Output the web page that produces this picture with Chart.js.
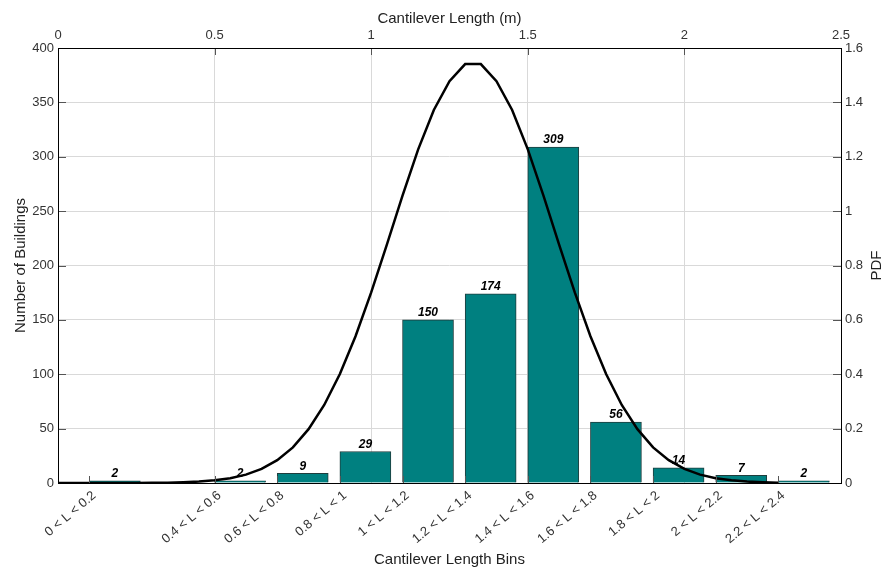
<!DOCTYPE html>
<html>
<head>
<meta charset="utf-8">
<title>Cantilever Length Histogram</title>
<script src="https://cdn.jsdelivr.net/npm/chart.js@4.4.1/dist/chart.umd.min.js"></script>
<style>
  body { margin: 0; background: #fff; }
  canvas { display: block; }
</style>
</head>
<body>
<canvas id="histChart" width="888" height="570"></canvas>
<script>
const binLabels = ['0 < L < 0.2', '0.4 < L < 0.6', '0.6 < L < 0.8', '0.8 < L < 1', '1 < L < 1.2',
  '1.2 < L < 1.4', '1.4 < L < 1.6', '1.6 < L < 1.8', '1.8 < L < 2', '2 < L < 2.2', '2.2 < L < 2.4'];
const binCenters = [0.1, 0.5, 0.7, 0.9, 1.1, 1.3, 1.5, 1.7, 1.9, 2.1, 2.3];
const counts = [2, 2, 9, 29, 150, 174, 309, 56, 14, 7, 2];

// fitted normal curve, every 0.05 m
const pdfX = [0, 0.05, 0.1, 0.15, 0.2, 0.25, 0.3, 0.35, 0.4, 0.45, 0.5, 0.55, 0.6, 0.65, 0.7, 0.75,
  0.8, 0.85, 0.9, 0.95, 1, 1.05, 1.1, 1.15, 1.2, 1.25, 1.3, 1.35, 1.4, 1.45, 1.5, 1.55, 1.6, 1.65,
  1.7, 1.75, 1.8, 1.85, 1.9, 1.95, 2, 2.05, 2.1, 2.15, 2.2, 2.25, 2.3];
const pdfY = [0, 0, 0, 0.0001, 0.0001, 0.0003, 0.0006, 0.0013, 0.0026, 0.0051, 0.0097, 0.0176, 0.0307,
  0.0517, 0.0839, 0.131, 0.198, 0.287, 0.401, 0.54, 0.701, 0.877, 1.057, 1.227, 1.372, 1.478, 1.541,
  1.541, 1.478, 1.372, 1.227, 1.057, 0.877, 0.701, 0.54, 0.401, 0.287, 0.198, 0.131, 0.0839, 0.0517,
  0.0307, 0.0176, 0.0097, 0.0051, 0.0026, 0.0013];

const lengthTicks = [0, 0.5, 1, 1.5, 2, 2.5];
const countTicks = [0, 50, 100, 150, 200, 250, 300, 350, 400];
const pdfTicks = [0, 0.2, 0.4, 0.6, 0.8, 1, 1.2, 1.4, 1.6];

const FONT = 'Liberation Sans, Arial, sans-serif';
const gridColor = '#d9d9d9';
const tickColor = '#333';

const frame = {
  id: 'frame',
  afterDatasetsDraw(chart) {
    const { ctx, chartArea: a, scales } = chart;
    ctx.save();
    ctx.strokeStyle = '#555';
    ctx.lineWidth = 1;
    ctx.beginPath();
    lengthTicks.slice(1, -1).forEach(v => {
      const px = Math.round(scales.xTop.getPixelForValue(v)) + 0.5;
      ctx.moveTo(px, a.top); ctx.lineTo(px, a.top + 7);
    });
    binCenters.forEach(v => {
      const px = Math.round(scales.x.getPixelForValue(v)) + 0.5;
      ctx.moveTo(px, a.bottom); ctx.lineTo(px, a.bottom - 7);
    });
    countTicks.slice(1, -1).forEach(v => {
      const py = Math.round(scales.y.getPixelForValue(v)) + 0.5;
      ctx.moveTo(a.left, py); ctx.lineTo(a.left + 8, py);
    });
    pdfTicks.slice(1, -1).forEach(v => {
      const py = Math.round(scales.yPdf.getPixelForValue(v)) + 0.5;
      ctx.moveTo(a.right, py); ctx.lineTo(a.right - 8, py);
    });
    ctx.stroke();

    ctx.strokeStyle = '#000';
    ctx.strokeRect(Math.round(a.left) + 0.5, Math.round(a.top) + 0.5,
      Math.round(a.right - a.left), Math.round(a.bottom - a.top));

    // count labels over the bars
    const meta = chart.getDatasetMeta(1);
    ctx.fillStyle = '#000';
    ctx.font = 'bold italic 12px ' + FONT;
    ctx.textAlign = 'center';
    ctx.textBaseline = 'bottom';
    meta.data.forEach((bar, i) => {
      ctx.fillText(String(counts[i]), bar.x, bar.y - 1);
    });

    // right axis title, reading upwards
    ctx.translate(877, (a.top + a.bottom) / 2);
    ctx.rotate(-Math.PI / 2);
    ctx.font = '15px ' + FONT;
    ctx.fillStyle = '#222';
    ctx.textBaseline = 'middle';
    ctx.fillText('PDF', 0, 0);
    ctx.restore();
  }
};

const plainNum = v => String(v);

new Chart(document.getElementById('histChart'), {
  data: {
    datasets: [
      {
        type: 'line',
        label: 'PDF',
        data: pdfX.map((x, i) => ({ x: x, y: pdfY[i] })),
        xAxisID: 'xTop',
        yAxisID: 'yPdf',
        borderColor: '#000',
        borderWidth: 2.5,
        pointRadius: 0,
        tension: 0,
        order: 0
      },
      {
        type: 'bar',
        label: 'Number of Buildings',
        data: binCenters.map((x, i) => ({ x: x, y: counts[i] })),
        xAxisID: 'x',
        yAxisID: 'y',
        backgroundColor: '#008080',
        borderColor: '#1f3d3d',
        borderWidth: 1,
        barThickness: 51,
        order: 1
      }
    ]
  },
  options: {
    responsive: false,
    animation: false,
    layout: { padding: 0 },
    plugins: {
      legend: { display: false },
      tooltip: { enabled: false }
    },
    scales: {
      x: {
        type: 'linear',
        position: 'bottom',
        offset: false,
        min: 0,
        max: 2.5,
        afterBuildTicks: axis => { axis.ticks = binCenters.map(v => ({ value: v })); },
        afterFit: axis => { axis.height = 87; },
        grid: { display: false, drawTicks: false, offset: false },
        border: { display: false },
        ticks: {
          autoSkip: false,
          minRotation: 40,
          maxRotation: 40,
          padding: 5,
          labelOffset: 5,
          color: tickColor,
          font: { family: FONT, size: 13 },
          callback: (v, i) => binLabels[i]
        },
        title: {
          display: true,
          text: 'Cantilever Length Bins',
          color: '#222',
          font: { family: FONT, size: 15 },
          padding: { top: 0, bottom: 1 }
        }
      },
      xTop: {
        type: 'linear',
        position: 'top',
        min: 0,
        max: 2.5,
        afterBuildTicks: axis => { axis.ticks = lengthTicks.map(v => ({ value: v })); },
        afterFit: axis => { axis.height = 48; },
        grid: { color: gridColor, drawTicks: false },
        border: { display: false },
        ticks: {
          padding: 5,
          color: tickColor,
          font: { family: FONT, size: 13 },
          callback: plainNum
        },
        title: {
          display: true,
          text: 'Cantilever Length (m)',
          color: '#222',
          font: { family: FONT, size: 15 },
          padding: { top: 10, bottom: 0 }
        }
      },
      y: {
        type: 'linear',
        position: 'left',
        min: 0,
        max: 400,
        afterBuildTicks: axis => { axis.ticks = countTicks.map(v => ({ value: v })); },
        afterFit: axis => { axis.width = 58; },
        grid: { color: gridColor, drawTicks: false },
        border: { display: false },
        ticks: {
          padding: 4,
          color: tickColor,
          font: { family: FONT, size: 13 },
          callback: plainNum
        },
        title: {
          display: true,
          text: 'Number of Buildings',
          color: '#222',
          font: { family: FONT, size: 15 },
          padding: { top: 12, bottom: 0 }
        }
      },
      yPdf: {
        type: 'linear',
        position: 'right',
        min: 0,
        max: 1.6,
        afterBuildTicks: axis => { axis.ticks = pdfTicks.map(v => ({ value: v })); },
        afterFit: axis => { axis.width = 47; },
        grid: { display: false, drawTicks: false },
        border: { display: false },
        ticks: {
          padding: 4,
          color: tickColor,
          font: { family: FONT, size: 13 },
          callback: plainNum
        }
      }
    }
  },
  plugins: [frame]
});
</script>
</body>
</html>
